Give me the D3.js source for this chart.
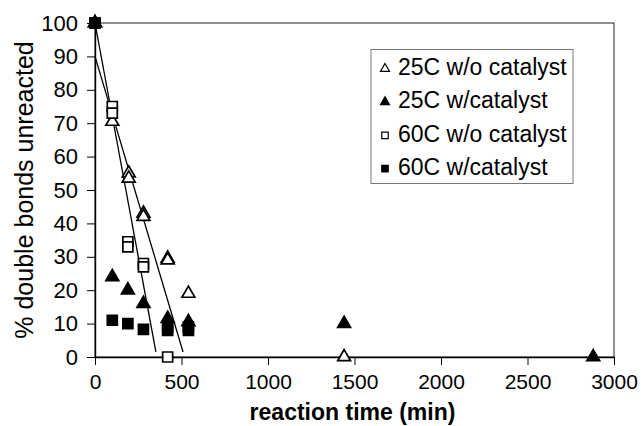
<!DOCTYPE html>
<html><head><meta charset="utf-8">
<script src="https://cdn.jsdelivr.net/npm/d3@7"></script>
<style>
html,body{margin:0;padding:0;background:#fff;}
text{font-family:Arial,"Liberation Sans",Helvetica,sans-serif;fill:#000;}
</style></head>
<body><svg id="c" width="641" height="426"></svg>
<script>
// ---- data ----
const xTicks = [0, 500, 1000, 1500, 2000, 2500, 3000];
const yTicks = [0, 10, 20, 30, 40, 50, 60, 70, 80, 90, 100];
const seriesNames = ["25C w/o catalyst", "25C w/catalyst", "60C w/o catalyst", "60C w/catalyst"];
// 25C w/o catalyst (open triangles)
const t25wo = [0, 100, 195, 195, 280, 280, 420, 420, 540, 1440];
const y25wo = [100, 70.5, 55, 53.5, 43, 42, 29.5, 29, 19, 0];
// 25C w/catalyst (filled triangles)
const t25w = [0, 100, 190, 280, 420, 540, 1440, 2880];
const y25w = [100, 24, 20, 16, 11.5, 10.5, 10, 0];
// 60C w/o catalyst (open squares)
const t60wo = [0, 100, 100, 190, 190, 280, 280, 420];
const y60wo = [100, 75, 73, 34.5, 33, 28, 27, 0];
// 60C w/catalyst (filled squares)
const t60w = [0, 100, 190, 280, 420, 420, 540, 540];
const y60w = [100, 11, 10, 8.3, 9, 8, 9, 8];
// straight fit lines (endpoints)
const fit1X = [0, 352];
const fit1Y = [100, 1.5];
const fit2X = [0, 509];
const fit2Y = [90, 1.5];

// ---- layout ----
const L = 95, R = 614, T = 23, B = 357;
const svg = d3.select("#c");
const x = d3.scaleLinear().domain([0, 3000]).range([L, R]);
const y = d3.scaleLinear().domain([0, 100]).range([B, T]);

// frame
svg.append("rect").attr("x", L).attr("y", T).attr("width", R - L).attr("height", B - T)
  .attr("fill", "none").attr("stroke", "#222").attr("stroke-width", 1);

// axes
const xa = svg.append("g").attr("transform", `translate(0,${B})`)
  .call(d3.axisBottom(x).tickValues(xTicks).tickSize(8).tickSizeOuter(0).tickFormat(d3.format("d")));
const ya = svg.append("g").attr("transform", `translate(${L},0)`)
  .call(d3.axisLeft(y).tickValues(yTicks).tickSize(8).tickSizeOuter(0).tickFormat(d3.format("d")));
[xa, ya].forEach(g => {
  g.select(".domain").attr("stroke", "#000").attr("stroke-width", 1.4);
  g.selectAll(".tick line").attr("stroke", "#000");
  g.selectAll(".tick text").attr("font-size", 22).attr("fill", "#000")
    .attr("font-family", "Arial, 'Liberation Sans', sans-serif");
});
ya.selectAll(".tick text").attr("x", -17);
xa.selectAll(".tick text").attr("y", 17).attr("font-size", 21);

// axis titles
svg.append("text").attr("x", (L + R) / 2 - 2).attr("y", 420).attr("text-anchor", "middle")
  .attr("font-size", 23).attr("font-weight", "bold").text("reaction time (min)");
svg.append("text").attr("transform", `translate(33,${(T + B) / 2}) rotate(-90)`)
  .attr("text-anchor", "middle").attr("font-size", 25).text("% double bonds unreacted");

// fit lines
const line = d3.line().x(d => x(d[0])).y(d => y(d[1]));
[[fit1X, fit1Y], [fit2X, fit2Y]].forEach(([xs, ys]) => {
  svg.append("path").datum(xs.map((v, i) => [v, ys[i]]))
    .attr("d", line).attr("fill", "none").attr("stroke", "#000").attr("stroke-width", 1.3);
});

// markers
const tri = d3.symbol().type(d3.symbolTriangle).size(72);
const sq = d3.symbol().type(d3.symbolSquare).size(100);
function plot(xs, ys, gen, filled) {
  svg.append("g").selectAll("path").data(xs.map((v, i) => [v, ys[i]])).join("path")
    .attr("d", gen).attr("transform", d => `translate(${x(d[0])},${y(d[1])})`)
    .attr("fill", filled ? "#000" : "#fff").attr("stroke", "#000").attr("stroke-width", 1.7);
}
plot(t25wo, y25wo, tri, false);
plot(t60wo, y60wo, sq, false);
plot(t25w, y25w, tri, true);
plot(t60w, y60w, sq, true);

// legend
const lg = svg.append("g");
lg.append("rect").attr("x", 371).attr("y", 49.5).attr("width", 202).attr("height", 134)
  .attr("fill", "#fff").attr("stroke", "#777").attr("stroke-width", 1);
const legRows = [66.7, 100, 133.3, 166.7];
const legGen = [d3.symbol().type(d3.symbolTriangle).size(35), d3.symbol().type(d3.symbolTriangle).size(35),
                d3.symbol().type(d3.symbolSquare).size(42), d3.symbol().type(d3.symbolSquare).size(42)];
const legFill = [false, true, false, true];
seriesNames.forEach((n, i) => {
  lg.append("path").attr("d", legGen[i]()).attr("transform", `translate(385,${legRows[i] + 2})`)
    .attr("fill", legFill[i] ? "#000" : "#fff").attr("stroke", "#000").attr("stroke-width", 1.2);
  lg.append("text").attr("x", 398).attr("y", legRows[i]).attr("dy", "0.36em")
    .attr("font-size", 23).text(n);
});
</script></body></html>
